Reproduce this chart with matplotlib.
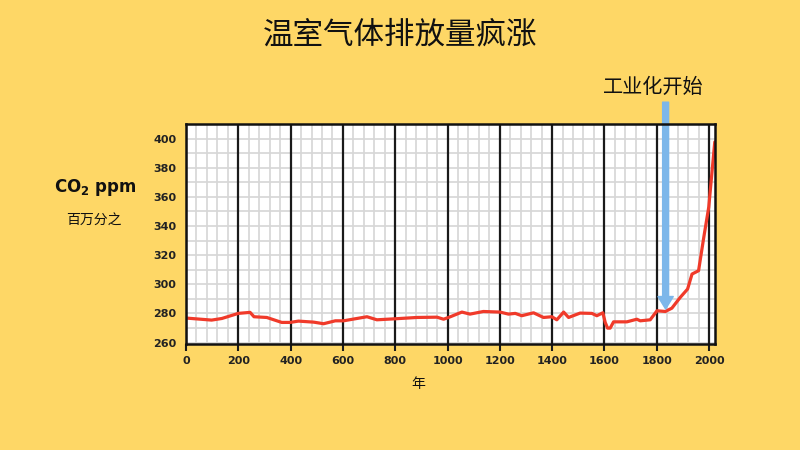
import matplotlib.pyplot as plt
from matplotlib.ticker import MultipleLocator

plt.rcParams['font.family'] = ['Noto Sans CJK SC', 'DejaVu Sans']

# 数据: 年份与 CO2 浓度 (ppm)
years = [0, 98, 137, 200, 245, 260, 309, 366, 398, 430, 488, 526, 571, 602,
         692, 730, 800, 883, 960, 985, 1011, 1055, 1086, 1137, 1201, 1233,
         1259, 1284, 1329, 1367, 1399, 1418, 1444, 1463, 1507, 1552, 1571,
         1594, 1603, 1612, 1622, 1635, 1686, 1724, 1737, 1775, 1801, 1833,
         1858, 1890, 1918, 1935, 1960, 1980, 1999, 2022]
co2 = [276.8, 275.4, 276.5, 280.0, 280.7, 277.7, 277.2, 273.8, 273.8, 274.7,
       274.0, 272.9, 274.9, 274.9, 277.7, 275.6, 276.3, 277.2, 277.4, 276.0,
       277.7, 280.9, 279.5, 281.3, 280.9, 279.5, 280.0, 278.4, 280.4, 277.2,
       277.7, 275.6, 280.9, 277.2, 280.2, 280.0, 278.4, 280.4, 273.8, 269.9,
       269.9, 274.2, 274.2, 276.0, 274.9, 275.6, 281.8, 281.3, 283.6, 291.0,
       296.7, 307.0, 309.3, 332.3, 353.0, 397.7]

x_ticks = [0, 200, 400, 600, 800, 1000, 1200, 1400, 1600, 1800, 2000]
y_ticks = [260, 280, 300, 320, 340, 360, 380, 400]
arrow_year = 1834
arrow_top, arrow_tip = 425, 283

bg = '#FED766'
fig = plt.figure(figsize=(8, 4.5), dpi=100, facecolor=bg)
ax = fig.add_axes([0.2325, 0.2356, 0.6613, 0.4888])
ax.set_facecolor('white')
ax.set_axisbelow(True)

ax.set_xlim(0, 2023)
ax.set_ylim(259, 410)

# 浅灰色细网格
ax.xaxis.set_minor_locator(MultipleLocator(40))
ax.yaxis.set_minor_locator(MultipleLocator(10))
ax.grid(which='minor', axis='both', color='#d6d6d6', lw=1.2)
ax.grid(which='major', axis='y', color='#d6d6d6', lw=1.2)
for xv in x_ticks:
    ax.axvline(xv, color='#1a1a1a', lw=1.6, zorder=2)

ax.plot(years, co2, color='#F03A2A', lw=2.3, zorder=3, solid_capstyle='round')

ax.set_xticks(x_ticks)
ax.set_yticks(y_ticks)
ax.tick_params(axis='x', which='major', length=5, width=1.5, color='#1a1a1a', pad=4)
ax.tick_params(axis='y', which='major', length=0, pad=7)
ax.tick_params(which='minor', length=0)
for lab in ax.get_xticklabels() + ax.get_yticklabels():
    lab.set_fontfamily('DejaVu Sans')
    lab.set_fontweight('bold')
    lab.set_fontsize(8)
    lab.set_color('#222222')

for s in ax.spines.values():
    s.set_linewidth(1.8)
    s.set_color('#111111')
    s.set_zorder(5)

ax.annotate('', xy=(arrow_year, arrow_tip), xytext=(arrow_year, arrow_top),
            arrowprops=dict(width=4.3, headwidth=11, headlength=9,
                            color='#7DB7EA', shrink=0),
            annotation_clip=False, zorder=4)

fig.text(0.5, 1 - 35 / 450, '温室气体排放量疯涨', ha='center', va='center',
         fontsize=22, color='#111111')
fig.text(0.816, 1 - 87 / 450, '工业化开始', ha='center', va='center',
         fontsize=14.5, color='#111111')
fig.text(0.119, 1 - 188 / 450, 'CO$_\\mathbf{2}$ ppm', ha='center', va='center',
         fontsize=12, fontweight='bold', color='#111111', family='DejaVu Sans')
fig.text(0.117, 1 - 221 / 450, '百万分之', ha='center', va='center',
         fontsize=10, color='#111111')
fig.text(0.5225, 1 - 384 / 450, '年', ha='center', va='center',
         fontsize=10, color='#111111')

fig.savefig('out.png', dpi=100, facecolor=bg)
